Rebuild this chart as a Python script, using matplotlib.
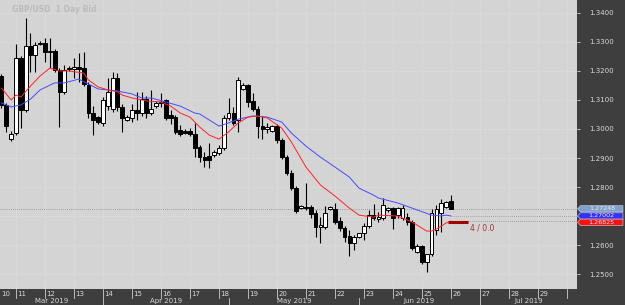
import numpy as np
import pandas as pd
import matplotlib
matplotlib.use('Agg')
import matplotlib.pyplot as plt
from matplotlib.patches import Polygon
from matplotlib.transforms import blended_transform_factory

# GBP/USD daily candles, Thu 7 Mar 2019 .. Mon 24 Jun 2019 (Sunday bars included)
opens = [1.3183, 1.3083, 1.2965, 1.2986, 1.3245, 1.3066, 1.3286, 1.3255, 1.3297, 1.3297,
         1.3266, 1.3269, 1.3204, 1.3128, 1.3207, 1.3207, 1.3214, 1.3210, 1.3152, 1.3055,
         1.3041, 1.3021, 1.3079, 1.3069, 1.3176, 1.3076, 1.3031, 1.3038, 1.3066, 1.3055,
         1.3103, 1.3055, 1.3079, 1.3093, 1.3100, 1.3048, 1.3041, 1.2997, 1.2993, 1.2993,
         1.2983, 1.2938, 1.2903, 1.2907, 1.2910, 1.2917, 1.2934, 1.3038, 1.3055, 1.3031,
         1.3138, 1.3152, 1.3097, 1.3069, 1.3010, 1.3000, 1.2993, 1.3010, 1.2962, 1.2903,
         1.2848, 1.2796, 1.2727, 1.2731, 1.2731, 1.2710, 1.2662, 1.2662, 1.2724, 1.2724,
         1.2683, 1.2658, 1.2631, 1.2607, 1.2627, 1.2641, 1.2665, 1.2703, 1.2689, 1.2693,
         1.2721, 1.2727, 1.2703, 1.2693, 1.2696, 1.2679, 1.2576, 1.2596, 1.2541, 1.2569,
         1.2652, 1.2710, 1.2731, 1.2752]
highs = [1.3190, 1.3090, 1.2993, 1.3293, 1.3252, 1.3383, 1.3331, 1.3300, 1.3304, 1.3314,
         1.3314, 1.3276, 1.3210, 1.3221, 1.3217, 1.3245, 1.3262, 1.3266, 1.3162, 1.3079,
         1.3045, 1.3110, 1.3176, 1.3197, 1.3193, 1.3086, 1.3048, 1.3086, 1.3128, 1.3128,
         1.3114, 1.3135, 1.3097, 1.3124, 1.3103, 1.3066, 1.3048, 1.3014, 1.3000, 1.3003,
         1.3021, 1.2945, 1.2921, 1.2952, 1.2928, 1.2945, 1.3048, 1.3107, 1.3076, 1.3179,
         1.3159, 1.3155, 1.3124, 1.3079, 1.3045, 1.3021, 1.3014, 1.3017, 1.2969, 1.2910,
         1.2859, 1.2803, 1.2738, 1.2814, 1.2738, 1.2721, 1.2696, 1.2734, 1.2734, 1.2745,
         1.2696, 1.2665, 1.2652, 1.2634, 1.2641, 1.2676, 1.2721, 1.2741, 1.2714, 1.2762,
         1.2731, 1.2731, 1.2731, 1.2738, 1.2710, 1.2686, 1.2603, 1.2600, 1.2569, 1.2724,
         1.2738, 1.2758, 1.2752, 1.2772]
lows = [1.3072, 1.2990, 1.2959, 1.2979, 1.3003, 1.3059, 1.3197, 1.3197, 1.3290, 1.3231,
        1.3210, 1.3197, 1.3007, 1.3121, 1.3200, 1.3176, 1.3162, 1.3148, 1.3038, 1.2979,
        1.3017, 1.3010, 1.3066, 1.3059, 1.3062, 1.2990, 1.3028, 1.3024, 1.3031, 1.3045,
        1.3038, 1.3048, 1.3072, 1.3076, 1.3031, 1.3017, 1.2983, 1.2976, 1.2983, 1.2976,
        1.2903, 1.2886, 1.2869, 1.2865, 1.2903, 1.2910, 1.2928, 1.3031, 1.3014, 1.2990,
        1.3135, 1.3076, 1.3062, 1.2969, 1.2965, 1.2986, 1.2990, 1.2952, 1.2896, 1.2841,
        1.2790, 1.2710, 1.2724, 1.2721, 1.2693, 1.2627, 1.2607, 1.2655, 1.2721, 1.2672,
        1.2648, 1.2610, 1.2562, 1.2583, 1.2624, 1.2617, 1.2658, 1.2686, 1.2679, 1.2686,
        1.2714, 1.2655, 1.2693, 1.2686, 1.2669, 1.2583, 1.2572, 1.2534, 1.2507, 1.2562,
        1.2634, 1.2645, 1.2727, 1.2724]
closes = [1.3083, 1.3010, 1.2983, 1.3245, 1.3066, 1.3286, 1.3255, 1.3290, 1.3293, 1.3266,
          1.3269, 1.3204, 1.3128, 1.3204, 1.3210, 1.3214, 1.3207, 1.3155, 1.3055, 1.3031,
          1.3024, 1.3100, 1.3128, 1.3176, 1.3076, 1.3038, 1.3041, 1.3066, 1.3055, 1.3103,
          1.3055, 1.3069, 1.3090, 1.3090, 1.3038, 1.3038, 1.2990, 1.2983, 1.2986, 1.2983,
          1.2934, 1.2903, 1.2893, 1.2893, 1.2921, 1.2934, 1.3038, 1.3055, 1.3021, 1.3169,
          1.3152, 1.3093, 1.3069, 1.3010, 1.3000, 1.3007, 1.3010, 1.2962, 1.2903, 1.2848,
          1.2796, 1.2717, 1.2734, 1.2727, 1.2707, 1.2662, 1.2669, 1.2710, 1.2731, 1.2679,
          1.2658, 1.2627, 1.2607, 1.2627, 1.2641, 1.2665, 1.2703, 1.2693, 1.2696, 1.2738,
          1.2727, 1.2693, 1.2727, 1.2727, 1.2679, 1.2589, 1.2596, 1.2541, 1.2569, 1.2710,
          1.2724, 1.2745, 1.2748, 1.27248]

# moving averages (bar index, value)
red_ma_idx = [0, 2, 3, 4, 6, 8, 10, 12, 14, 17, 18, 20, 22, 24, 25, 27, 30, 33, 35, 37,
              39, 41, 43, 45, 47, 49, 51, 53, 55, 58, 60, 63, 66, 69, 72, 74, 77, 78, 82,
              85, 88, 89, 90, 91, 92, 93]
red_ma = [1.3141, 1.3100, 1.3117, 1.3110, 1.3148, 1.3183, 1.3210, 1.3200, 1.3200, 1.3193,
          1.3169, 1.3145, 1.3135, 1.3128, 1.3117, 1.3107, 1.3097, 1.3093, 1.3079, 1.3055,
          1.3041, 1.3007, 1.2979, 1.2965, 1.2990, 1.3021, 1.3041, 1.3045, 1.3038, 1.3003,
          1.2955, 1.2869, 1.2807, 1.2769, 1.2727, 1.2703, 1.2696, 1.2703, 1.2700, 1.2679,
          1.2648, 1.2648, 1.2655, 1.2665, 1.2676, 1.26825]
blue_ma_idx = [0, 2, 4, 6, 8, 11, 13, 16, 18, 20, 22, 24, 27, 29, 31, 34, 37, 40, 41, 43,
               45, 47, 49, 52, 55, 58, 60, 63, 66, 69, 72, 74, 77, 78, 82, 85, 89, 91, 92, 93]
blue_ma = [1.3090, 1.3076, 1.3083, 1.3103, 1.3135, 1.3159, 1.3159, 1.3172, 1.3155, 1.3138,
           1.3135, 1.3131, 1.3121, 1.3107, 1.3107, 1.3093, 1.3079, 1.3055, 1.3052, 1.3031,
           1.3010, 1.3021, 1.3034, 1.3045, 1.3041, 1.3024, 1.2986, 1.2941, 1.2903, 1.2869,
           1.2834, 1.2796, 1.2772, 1.2762, 1.2745, 1.2727, 1.2703, 1.2700, 1.2703, 1.27002]

bid = 1.27248
price_ticks = [1.25, 1.26, 1.27, 1.28, 1.29, 1.30, 1.31, 1.32, 1.33, 1.34]
marker_level = 1.2679
marker_text = "4 / 0.0"
months = ['Mar 2019', 'Apr 2019', 'May 2019', 'Jun 2019', 'Jul 2019']

# bar calendar: every day except Saturday
days = pd.date_range('2019-03-07', '2019-07-31')
days = days[days.dayofweek != 5]
n = len(opens)
idx = np.arange(n)
o = np.array(opens); h = np.array(highs); l = np.array(lows); c = np.array(closes)

BG = '#d4d4d4'
PANEL = '#3e3e3e'
TXT = '#d8d8d8'

fig = plt.figure(figsize=(6.25, 3.05), dpi=100, facecolor=PANEL)
ax = fig.add_axes([0, 16/305, 577/625, 289/305], facecolor=BG)
x_left, x_right = -0.31, 119.1
y_lo, y_hi = 1.24483, 1.34448
ax.set_xlim(x_left, x_right)
ax.set_ylim(y_lo, y_hi)
for s in ax.spines.values():
    s.set_visible(False)

# grid
mondays = [i for i, d in enumerate(days) if d.dayofweek == 0]
for m in mondays:
    ax.axvline(m, color='#dadada', lw=0.6, zorder=0)
for p in price_ticks:
    ax.axhline(p, color='#dadada', lw=0.6, zorder=0)

# candles
up = c >= o
ax.vlines(idx, l, h, color='black', lw=0.8, zorder=3)
body = np.maximum(np.abs(c - o), 0.00005)
ax.bar(idx, body, bottom=np.minimum(o, c), width=0.78,
       color=np.where(up, 'white', 'black'), edgecolor='black', linewidth=0.7, zorder=4)

# moving averages
ax.plot(blue_ma_idx, blue_ma, color='#4a4aff', lw=0.7, zorder=5)
ax.plot(red_ma_idx, red_ma, color='#ff2424', lw=0.7, zorder=5)

# current price / indicator levels
ax.axhline(bid, color='#8c8c8c', lw=0.6, ls=(0, (1, 1.5)), zorder=1)
ax.hlines([blue_ma[-1], red_ma[-1]], n - 1, x_right, color='#8c8c8c', lw=0.6,
          ls=(0, (1, 1.5)), zorder=1)
ax.hlines(marker_level, n - 1.6, n + 2.5, color='#a00000', lw=2.2, zorder=6)
ax.text(n + 3.0, marker_level - 0.0021, marker_text, color='#a83030', fontsize=5.5,
        va='center', ha='left')

ax.text(12/577, 1 - 10/289, 'GBP/USD  1 Day Bid', transform=ax.transAxes,
        color='#bcbcbc', fontsize=5.5, fontweight='bold', va='center', ha='left')

# right price scale
ax.yaxis.tick_right()
ax.set_yticks(price_ticks)
ax.set_yticklabels(['%.4f' % p for p in price_ticks])
ax.tick_params(axis='y', colors=TXT, labelsize=5, length=2.5, width=0.6, pad=6.5)
ax.tick_params(axis='x', bottom=False, labelbottom=False)

# stacked price tags on the scale
ytr = blended_transform_factory(ax.transAxes, ax.transData)
per_px = (y_hi - y_lo) / 289
bh = 6.3 * per_px
x0, x1, x2 = 577.5 / 577, 580.5 / 577, 623 / 577
prev = None
for val, col in [(bid, '#7f9fd0'), (blue_ma[-1], '#3232ff'), (red_ma[-1], '#ff1010')]:
    yc = val if prev is None else min(val, prev - bh)
    prev = yc
    poly = Polygon([(x0, yc), (x1, yc + bh / 2), (x2, yc + bh / 2), (x2, yc - bh / 2),
                    (x1, yc - bh / 2)], closed=True, transform=ytr, fc=col,
                   ec='#d8d8d8', lw=0.4, clip_on=False, zorder=10)
    ax.add_patch(poly)
    ax.text((x1 + x2) / 2, yc, '%.5f' % val, transform=ytr, color='#e8e8f0',
            fontsize=4.6, va='center', ha='center', clip_on=False, zorder=11)

# bottom time scale
xtr = ax.get_xaxis_transform()
row = 8.5 / 289
ax.axhline(-row, xmin=0, xmax=1, color='#6a6a6a', lw=0.6, clip_on=False)
ax.text(x_left + 0.3, -4.6 / 289, '10', transform=xtr, color=TXT, fontsize=5,
        va='center', ha='left', clip_on=False)
for m in mondays:
    if m > x_right:
        break
    ax.plot([m, m], [0, -row], transform=xtr, color='#cfcfcf', lw=0.6, clip_on=False)
    wk = days[m].isocalendar()[1]
    if m + 4 < x_right:
        ax.text(m + 0.3, -4.6 / 289, str(wk), transform=xtr, color=TXT, fontsize=5,
                va='center', ha='left', clip_on=False)

starts = [x_left] + [i for i in range(1, len(days)) if days[i].month != days[i - 1].month]
bounds = starts + [x_right]
for j, lab in enumerate(months):
    a, b = bounds[j], bounds[j + 1]
    if j > 0:
        ax.plot([a, a], [-row, -16 / 289], transform=xtr, color='#cfcfcf', lw=0.6,
                clip_on=False)
    ax.text((a + b) / 2, -12.3 / 289, lab, transform=xtr, color=TXT, fontsize=5,
            va='center', ha='center', clip_on=False)

fig.savefig('out.png', dpi=100, facecolor=PANEL)
